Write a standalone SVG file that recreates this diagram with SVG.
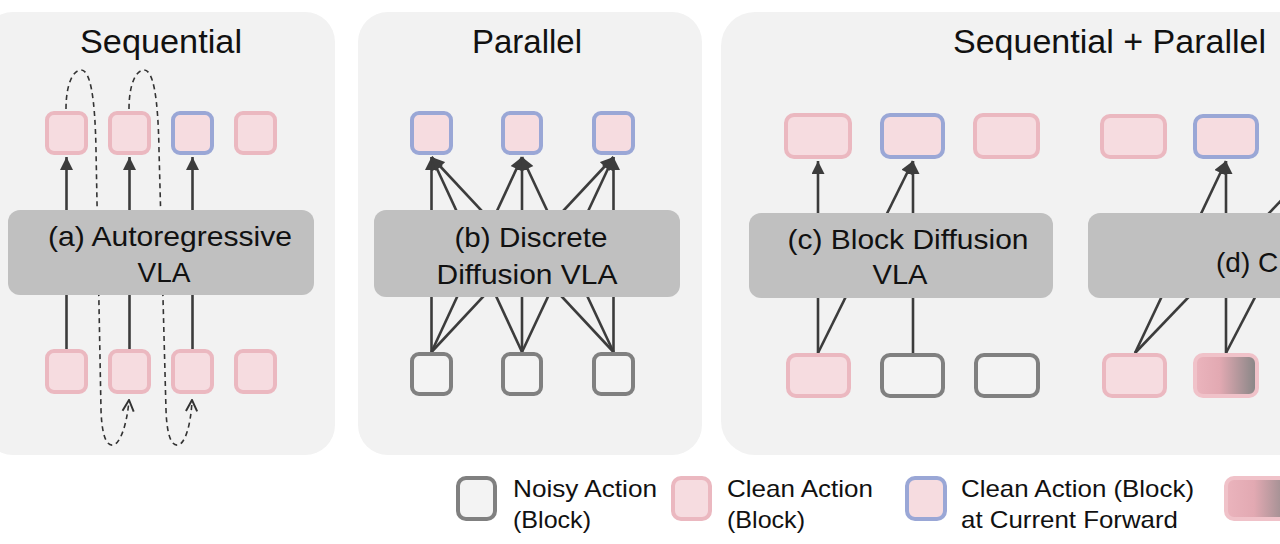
<svg xmlns="http://www.w3.org/2000/svg" width="1280" height="544" viewBox="0 0 1280 544">
<defs>
<style>
.panel{fill:#f2f2f2}
.bar{fill:#c0c0c0}
.clean{fill:#f6dce0;stroke:#ebb8c0;stroke-width:4}
.cur{fill:#f6dce0;stroke:#9aa7d6;stroke-width:4}
.noisy{fill:#f3f3f3;stroke:#808080;stroke-width:4}
.grad{fill:url(#g1);stroke:#f0c2c9;stroke-width:4}
.ln{stroke:#3c3c3c;stroke-width:2.6;fill:none}
.dash{stroke:#333;stroke-width:1.6;fill:none;stroke-dasharray:5 4}
text{font-family:"Liberation Sans",Arial,sans-serif;fill:#111}
.t{font-size:33px}
.b{font-size:28px}
.l{font-size:24px}
</style>
<linearGradient id="g1" x1="0" y1="0" x2="1" y2="0">
<stop offset="0" stop-color="#ebb4bd"/>
<stop offset="0.4" stop-color="#e2a9b2"/>
<stop offset="1" stop-color="#858585"/>
</linearGradient>
<marker id="ah" viewBox="0 0 10 10" refX="10" refY="5" markerWidth="14" markerHeight="13" markerUnits="userSpaceOnUse" orient="auto">
<path d="M0,0 L10,5 L0,10 z" fill="#3c3c3c"/>
</marker>
<marker id="oh" viewBox="0 0 10 10" refX="9" refY="5" markerWidth="14" markerHeight="14" markerUnits="userSpaceOnUse" orient="auto">
<path d="M1,1 L9,5 L1,9" fill="none" stroke="#333" stroke-width="1.4"/>
</marker>
</defs>
<rect width="1280" height="544" fill="#ffffff"/>
<g id="panels">
<rect class="panel" x="-17" y="12" width="352" height="443" rx="30"/>
<rect class="panel" x="358" y="12" width="344" height="443" rx="30"/>
<rect class="panel" x="721" y="12" width="620" height="443" rx="34"/>
<text class="t" x="161" y="53" text-anchor="middle" textLength="162" lengthAdjust="spacingAndGlyphs">Sequential</text>
<text class="t" x="527" y="53" text-anchor="middle" textLength="110" lengthAdjust="spacingAndGlyphs">Parallel</text>
<text class="t" x="953" y="53" textLength="313" lengthAdjust="spacingAndGlyphs">Sequential + Parallel</text>
</g>
<g id="connectors">
<line class="ln" x1="66.5" y1="349" x2="66.5" y2="157" marker-end="url(#ah)"/>
<line class="ln" x1="129.5" y1="349" x2="129.5" y2="157" marker-end="url(#ah)"/>
<line class="ln" x1="192.5" y1="349" x2="192.5" y2="157" marker-end="url(#ah)"/>
<path class="dash" d="M66,109 C66,82 74,70 81,70 C90,70 95,95 96,150 L101,410 C102,440 108,446 113,445 C120,444 127,425 129,400" marker-end="url(#oh)"/>
<path class="dash" d="M129,109 C129,82 137,70 144,70 C153,70 158,95 159,150 L166,410 C167,440 173,446 178,445 C185,444 191,425 192,400" marker-end="url(#oh)"/>
<line class="ln" x1="431.5" y1="352" x2="431.5" y2="157" marker-end="url(#ah)"/>
<line class="ln" x1="522" y1="352" x2="431.5" y2="157" marker-end="url(#ah)"/>
<line class="ln" x1="613.5" y1="352" x2="431.5" y2="157" marker-end="url(#ah)"/>
<line class="ln" x1="431.5" y1="352" x2="522" y2="157" marker-end="url(#ah)"/>
<line class="ln" x1="522" y1="352" x2="522" y2="157" marker-end="url(#ah)"/>
<line class="ln" x1="613.5" y1="352" x2="522" y2="157" marker-end="url(#ah)"/>
<line class="ln" x1="431.5" y1="352" x2="613.5" y2="157" marker-end="url(#ah)"/>
<line class="ln" x1="522" y1="352" x2="613.5" y2="157" marker-end="url(#ah)"/>
<line class="ln" x1="613.5" y1="352" x2="613.5" y2="157" marker-end="url(#ah)"/>
<line class="ln" x1="818" y1="353" x2="818" y2="161" marker-end="url(#ah)"/>
<line class="ln" x1="818" y1="353" x2="913" y2="161" marker-end="url(#ah)"/>
<line class="ln" x1="913" y1="353" x2="913" y2="161" marker-end="url(#ah)"/>
<line class="ln" x1="1135" y1="353" x2="1226" y2="161" marker-end="url(#ah)"/>
<line class="ln" x1="1135" y1="353" x2="1319" y2="161" marker-end="url(#ah)"/>
<line class="ln" x1="1226" y1="353" x2="1226" y2="161" marker-end="url(#ah)"/>
<line class="ln" x1="1226" y1="353" x2="1326" y2="161" marker-end="url(#ah)"/>
</g>
<g id="node-a-bar">
<rect class="bar" x="8" y="210" width="306" height="85" rx="12"/>
<text class="b" x="170" y="246" text-anchor="middle" textLength="244" lengthAdjust="spacingAndGlyphs">(a) Autoregressive</text>
<text class="b" x="164" y="282" text-anchor="middle" textLength="53" lengthAdjust="spacingAndGlyphs">VLA</text>
</g>
<g id="node-a-top">
<rect class="clean" x="47" y="113" width="39" height="40" rx="7"/>
<rect class="clean" x="110" y="113" width="39" height="40" rx="7"/>
<rect class="cur" x="173" y="113" width="39" height="40" rx="7"/>
<rect class="clean" x="236" y="113" width="39" height="40" rx="7"/>
</g>
<g id="node-a-bottom">
<rect class="clean" x="47" y="351" width="39" height="41" rx="7"/>
<rect class="clean" x="110" y="351" width="39" height="41" rx="7"/>
<rect class="clean" x="173" y="351" width="39" height="41" rx="7"/>
<rect class="clean" x="236" y="351" width="39" height="41" rx="7"/>
</g>
<g id="node-b-bar">
<rect class="bar" x="374" y="210" width="306" height="87" rx="12"/>
<text class="b" x="531" y="247" text-anchor="middle" textLength="153" lengthAdjust="spacingAndGlyphs">(b) Discrete</text>
<text class="b" x="527" y="284" text-anchor="middle" textLength="181" lengthAdjust="spacingAndGlyphs">Diffusion VLA</text>
</g>
<g id="node-b-top">
<rect class="cur" x="412" y="113" width="39" height="40" rx="7"/>
<rect class="cur" x="503" y="113" width="38" height="40" rx="7"/>
<rect class="cur" x="594" y="113" width="39" height="40" rx="7"/>
</g>
<g id="node-b-bottom">
<rect class="noisy" x="412" y="354" width="39" height="40" rx="7"/>
<rect class="noisy" x="503" y="354" width="38" height="40" rx="7"/>
<rect class="noisy" x="594" y="354" width="39" height="40" rx="7"/>
</g>
<g id="node-c-bar">
<rect class="bar" x="749" y="213" width="304" height="85" rx="12"/>
<text class="b" x="908" y="249" text-anchor="middle" textLength="241" lengthAdjust="spacingAndGlyphs">(c) Block Diffusion</text>
<text class="b" x="900" y="284" text-anchor="middle" textLength="55" lengthAdjust="spacingAndGlyphs">VLA</text>
</g>
<g id="node-c-top">
<rect class="clean" x="786" y="115" width="64" height="42" rx="8"/>
<rect class="cur" x="882" y="115" width="61" height="42" rx="8"/>
<rect class="clean" x="975" y="115" width="63" height="42" rx="8"/>
</g>
<g id="node-c-bottom">
<rect class="clean" x="788" y="355" width="61" height="41" rx="8"/>
<rect class="noisy" x="882" y="355" width="61" height="41" rx="8"/>
<rect class="noisy" x="976" y="355" width="62" height="41" rx="8"/>
</g>
<g id="node-d-bar">
<rect class="bar" x="1088" y="213" width="320" height="85" rx="12"/>
<text class="b" x="1216" y="272">(d) C</text>
</g>
<g id="node-d-top">
<rect class="clean" x="1102" y="116" width="63" height="41" rx="8"/>
<rect class="cur" x="1195" y="116" width="62" height="41" rx="8"/>
</g>
<g id="node-d-bottom">
<rect class="clean" x="1104" y="355" width="61" height="41" rx="8"/>
<rect class="grad" x="1195" y="355" width="62" height="41" rx="8"/>
</g>
<g id="legend">
<rect class="noisy" x="458" y="478" width="37" height="41" rx="8"/>
<text class="l" x="513" y="497" textLength="144" lengthAdjust="spacingAndGlyphs">Noisy Action</text>
<text class="l" x="513" y="528" textLength="78" lengthAdjust="spacingAndGlyphs">(Block)</text>
<rect class="clean" x="673" y="478" width="37" height="41" rx="8"/>
<text class="l" x="727" y="497" textLength="146" lengthAdjust="spacingAndGlyphs">Clean Action</text>
<text class="l" x="727" y="528" textLength="78" lengthAdjust="spacingAndGlyphs">(Block)</text>
<rect class="cur" x="907" y="478" width="38" height="41" rx="8"/>
<text class="l" x="961" y="497" textLength="233" lengthAdjust="spacingAndGlyphs">Clean Action (Block)</text>
<text class="l" x="961" y="528" textLength="217" lengthAdjust="spacingAndGlyphs">at Current Forward</text>
<rect class="grad" x="1226" y="478" width="70" height="41" rx="8"/>
</g>
</svg>
